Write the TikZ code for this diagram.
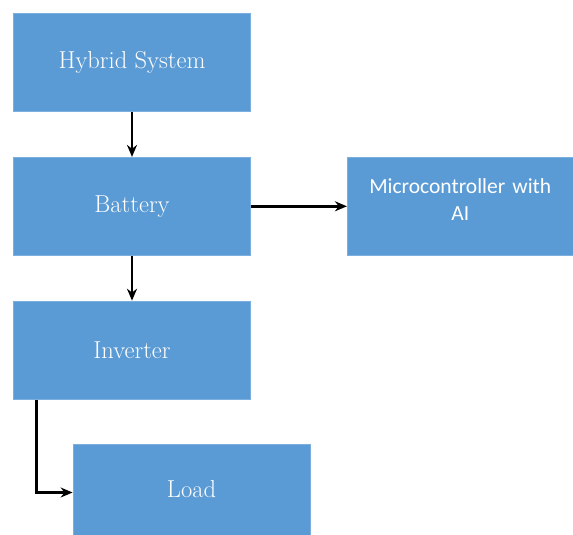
\documentclass[tikz,border=0pt]{standalone}
\usepackage{fontspec}
\newfontfamily\calibrifont{Carlito}
\usepackage{tikz}
\usepackage{xcolor}
\usetikzlibrary{positioning, arrows.meta, calc}
\definecolor{boxblue}{RGB}{91,155,213}
\definecolor{boxborder}{RGB}{125,175,222}

\tikzset{
    blockbox/.style={
        draw=boxborder,
        fill=boxblue,
        line width=0.8pt,
        minimum width=237pt,
        minimum height=98pt,
        text=white,
        font=\rmfamily\fontsize{24.5}{28}\selectfont
    },
    flowarrow/.style={
        -{Stealth[length=12pt, width=10pt]},
        line width=2.8pt,
        black
    }
}

\begin{document}
\begin{tikzpicture}[x=1pt, y=1pt]
    \useasboundingbox (0,0) rectangle (573,-535);

    \node[blockbox] (hybrid) at (132,-62.5) {Hybrid System};
    \node[blockbox, below=45pt of hybrid] (battery) {Battery};
    \node[blockbox, below=45pt of battery] (inverter) {Inverter};
    \node[
        blockbox,
        right=96pt of battery,
        minimum width=226pt,
        text width=205pt,
        align=center,
        font=\calibrifont\fontsize{21.5}{27}\selectfont
    ] (micro) {Microcontroller with\\ AI\\[-14pt]\mbox{}};
    \node[blockbox, minimum height=91pt] (load) at (191.5,-489.5) {Load};

    \coordinate (invout) at ($(inverter.south west)+(23,0)$);

    \draw[flowarrow] (hybrid) -- (battery);
    \draw[flowarrow] (battery) -- (inverter);
    \draw[flowarrow] (battery.east) -- (micro.west);
    \draw[flowarrow] (invout) |- ($(load.west)+(0,-3)$);
\end{tikzpicture}
\end{document}
